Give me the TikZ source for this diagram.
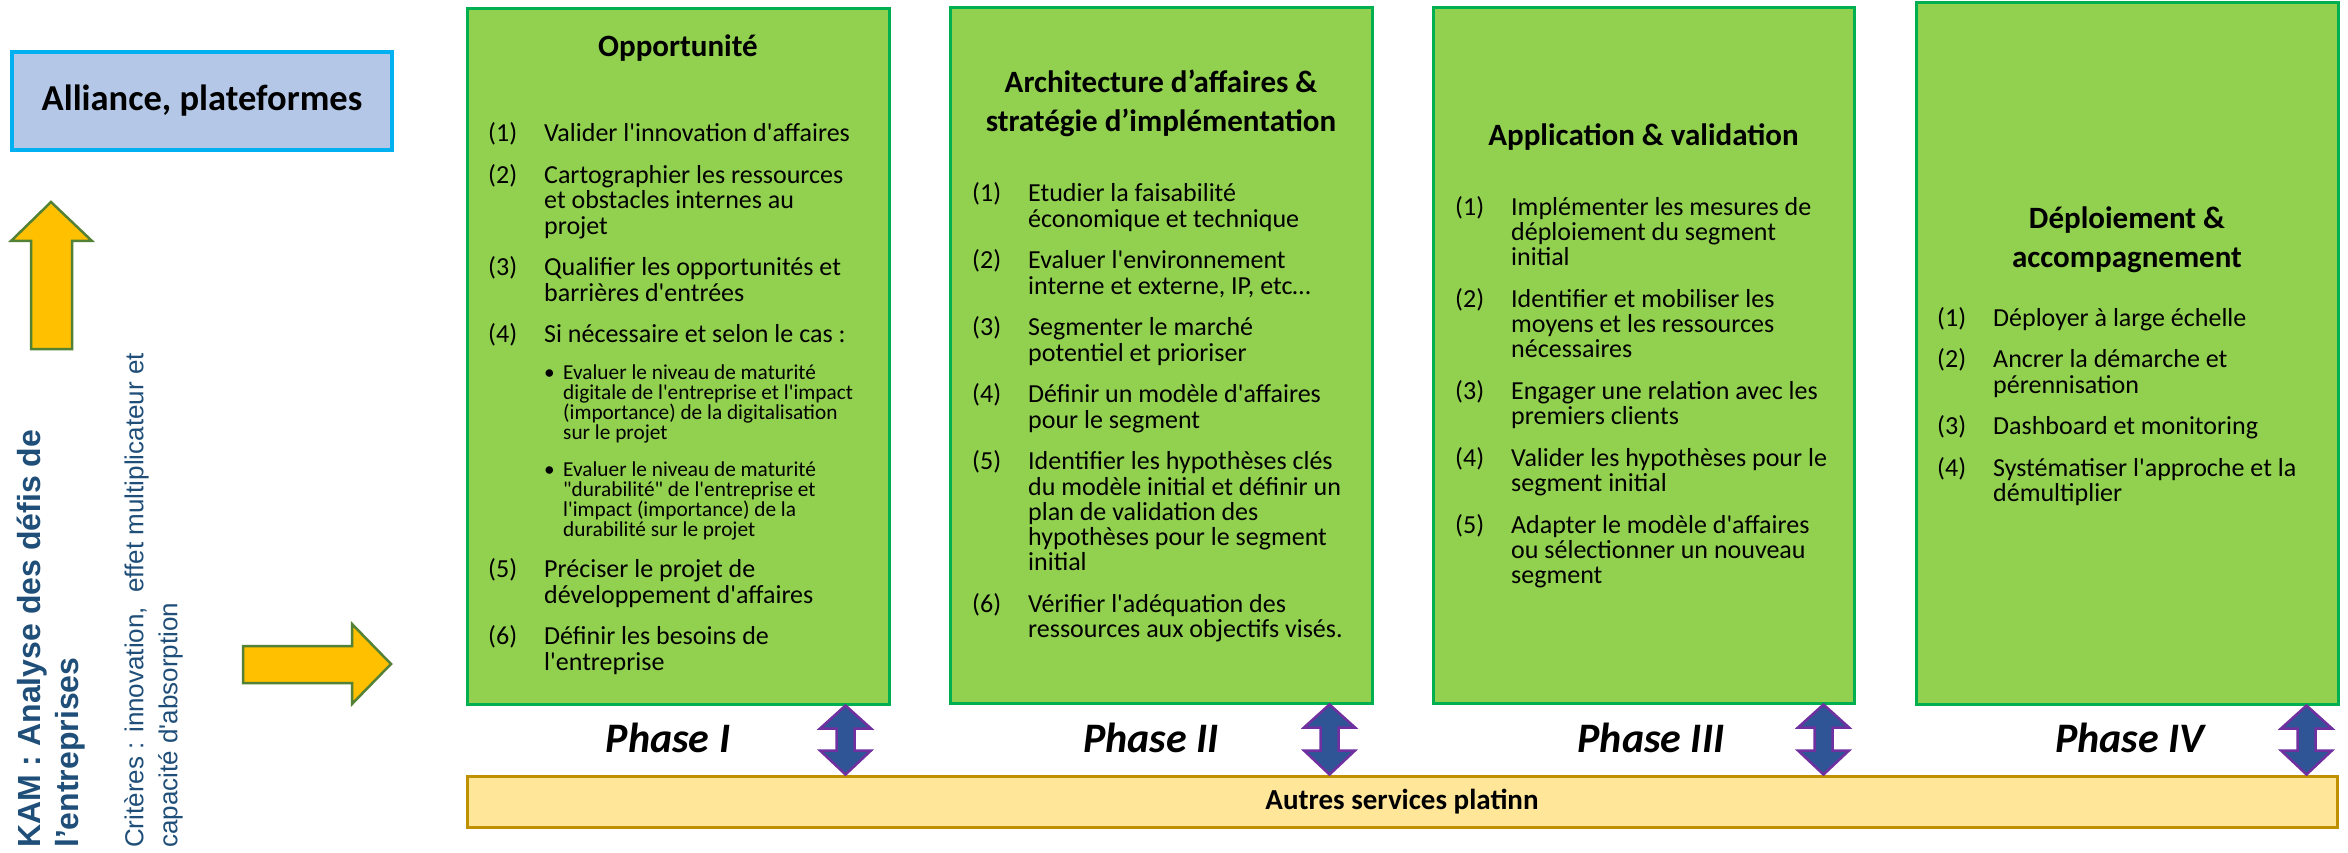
\documentclass[tikz,border=0pt]{standalone}
\usepackage{fontspec}
\newfontfamily\calib{Carlito}
\newfontfamily\arialf{Liberation Sans}
\usetikzlibrary{calc}

\definecolor{boxgreen}{HTML}{92D050}
\definecolor{boxborder}{HTML}{00B050}
\definecolor{allfill}{HTML}{B4C7E7}
\definecolor{allborder}{HTML}{00B0F0}
\definecolor{barfill}{HTML}{FFE699}
\definecolor{barborder}{HTML}{BF9000}
\definecolor{arrowyellow}{HTML}{FFC000}
\definecolor{arrowedge}{HTML}{538135}
\definecolor{dblfill}{HTML}{2F5597}
\definecolor{dbledge}{HTML}{7030A0}
\definecolor{kamblue}{HTML}{1F4E79}

\newcommand\itm[2]{\hangindent=56pt\hangafter=1\noindent\makebox[56pt][l]{#1}#2\par}
\newcommand\bul[1]{{\fontsize{21.3}{20}\selectfont\hangindent=75pt\hangafter=1\noindent\hspace*{56pt}\makebox[19pt][l]{•}#1\par}}
\newcommand\itemlist[1]{\parbox[t]{420pt}{\calib\fontsize{26}{25.2}\selectfont\parskip=16.6pt\relax\lineskiplimit=-100pt\relax\parindent=0pt\relax #1}}
\newcommand\ttl[1]{\parbox[t]{440pt}{\centering\calib\bfseries\fontsize{31}{39}\selectfont #1}}

\tikzset{
  phasebox/.style={draw=boxborder, fill=boxgreen, line width=3pt, rectangle, inner sep=0},
  allbox/.style={draw=allborder, fill=allfill, line width=4pt, rectangle, inner sep=0,
    font=\calib\bfseries\fontsize{36.5}{40}\selectfont},
  barbox/.style={draw=barborder, fill=barfill, line width=3pt, rectangle, inner sep=0,
    font=\calib\bfseries\fontsize{29}{32}\selectfont},
  yarrow/.style={fill=arrowyellow, draw=arrowedge, line width=2.5pt, line join=miter},
  dblarrow/.style={fill=dblfill, draw=dbledge, line width=2.5pt, line join=miter},
  phaselbl/.style={anchor=base, inner sep=0, font=\calib\bfseries\itshape\fontsize{42}{48}\selectfont},
  listnode/.style={anchor=base west, inner sep=0},
  titlenode/.style={anchor=base, inner sep=0},
}

\newcommand\dblarr[2]{%
  \path[dblarrow] let \p1=(#1.south east), \p2=(bar.north) in
    (\x1-#2pt,\y1) -- (\x1-#2pt+25.5pt,\y1-23pt) -- (\x1-#2pt+9pt,\y1-23pt)
    -- (\x1-#2pt+9pt,\y2+24pt) -- (\x1-#2pt+25.5pt,\y2+24pt) -- (\x1-#2pt,\y2)
    -- (\x1-#2pt-25.5pt,\y2+24pt) -- (\x1-#2pt-9pt,\y2+24pt) -- (\x1-#2pt-9pt,\y1-23pt)
    -- (\x1-#2pt-25.5pt,\y1-23pt) -- cycle;}

\begin{document}
\begin{tikzpicture}[x=1pt,y=-1pt]
\useasboundingbox (0,0) rectangle (2348,853);

% left part
\node[allbox, minimum width=380, minimum height=98] (alliance) at (202,101) {Alliance, plateformes};

\path[yarrow] (51,202) -- (92,241) -- (72,241) -- (72,349) -- (31,349) -- (31,241) -- (11,241) -- cycle;
\path[yarrow] (391,664) -- (352,704) -- (352,683) -- (243,683) -- (243,646) -- (352,646) -- (352,624) -- cycle;

\node[rotate=90, anchor=north west, inner sep=0, align=left, text=kamblue,
  font=\arialf\bfseries\fontsize{32}{38}\selectfont] (kam) at (17,848)
  {KAM : Analyse des défis de\\l’entreprises};
\node[rotate=90, anchor=north west, inner sep=0, align=left, text=kamblue,
  font=\arialf\fontsize{26}{34}\selectfont] (crit) at (124,848)
  {Critères : innovation,\ \ effet multiplicateur et\\capacité d'absorption};

% phase boxes
\node[phasebox, minimum width=422, minimum height=695] (b1) at (678,356.5) {};
\node[phasebox, minimum width=422, minimum height=695] (b2) at (1161,355.5) {};
\node[phasebox, minimum width=421, minimum height=695] (b3) at (1643.5,355.5) {};
\node[phasebox, minimum width=422, minimum height=701] (b4) at (2127,353.5) {};

% bottom bar
\node[barbox, minimum width=1870, minimum height=51] (bar) at (1402,801.5) {Autres services platinn};

% titles
\node[titlenode] (t1) at (678,57) {\ttl{Opportunité}};
\node[titlenode] (t2) at (1161,93) {\ttl{Architecture d’affaires \&\\stratégie d’implémentation}};
\node[titlenode] (t3) at (1643.5,146) {\ttl{Application \& validation}};
\node[titlenode] (t4) at (2127,229) {\ttl{Déploiement \&\\accompagnement}};

% lists
\node[listnode] (l1) at (488,142) {\itemlist{%
\itm{(1)}{Valider l'innovation d'affaires}
\itm{(2)}{Cartographier les ressources\newline et obstacles internes au\newline projet}
\itm{(3)}{Qualifier les opportunités et\newline barrières d'entrées}
\itm{(4)}{Si nécessaire et selon le cas :}
\bul{Evaluer le niveau de maturité\newline digitale de l'entreprise et l'impact\newline (importance) de la digitalisation\newline sur le projet}
\bul{Evaluer le niveau de maturité\newline "durabilité" de l'entreprise et\newline l'impact (importance) de la\newline durabilité sur le projet}
\itm{(5)}{Préciser le projet de\newline développement d'affaires}
\itm{(6)}{Définir les besoins de\newline l'entreprise}}};

\node[listnode] (l2) at (972,202) {\itemlist{%
\itm{(1)}{Etudier la faisabilité\newline économique et technique}
\itm{(2)}{Evaluer l'environnement\newline interne et externe, IP, etc…}
\itm{(3)}{Segmenter le marché\newline potentiel et prioriser}
\itm{(4)}{Définir un modèle d'affaires\newline pour le segment}
\itm{(5)}{Identifier les hypothèses clés\newline du modèle initial et définir un\newline plan de validation des\newline hypothèses pour le segment\newline initial}
\itm{(6)}{Vérifier l'adéquation des\newline ressources aux objectifs visés.}}};

\node[listnode] (l3) at (1455,215) {\itemlist{%
\itm{(1)}{Implémenter les mesures de\newline déploiement du segment\newline initial}
\itm{(2)}{Identifier et mobiliser les\newline moyens et les ressources\newline nécessaires}
\itm{(3)}{Engager une relation avec les\newline premiers clients}
\itm{(4)}{Valider les hypothèses pour le\newline segment initial}
\itm{(5)}{Adapter le modèle d'affaires\newline ou sélectionner un nouveau\newline segment}}};

\node[listnode] (l4) at (1937,326) {\itemlist{%
\itm{(1)}{Déployer à large échelle}
\itm{(2)}{Ancrer la démarche et\newline pérennisation}
\itm{(3)}{Dashboard et monitoring}
\itm{(4)}{Systématiser l'approche et la\newline démultiplier}}};

% phase labels
\node[phaselbl] (p1) at (668,752) {Phase I};
\node[phaselbl] (p2) at (1151,752) {Phase II};
\node[phaselbl] (p3) at (1651,752) {Phase III};
\node[phaselbl] (p4) at (2130,752) {Phase IV};

% double arrows between boxes and bar
\dblarr{b1}{45}
\dblarr{b2}{44}
\dblarr{b3}{32}
\dblarr{b4}{33}
\end{tikzpicture}
\end{document}
